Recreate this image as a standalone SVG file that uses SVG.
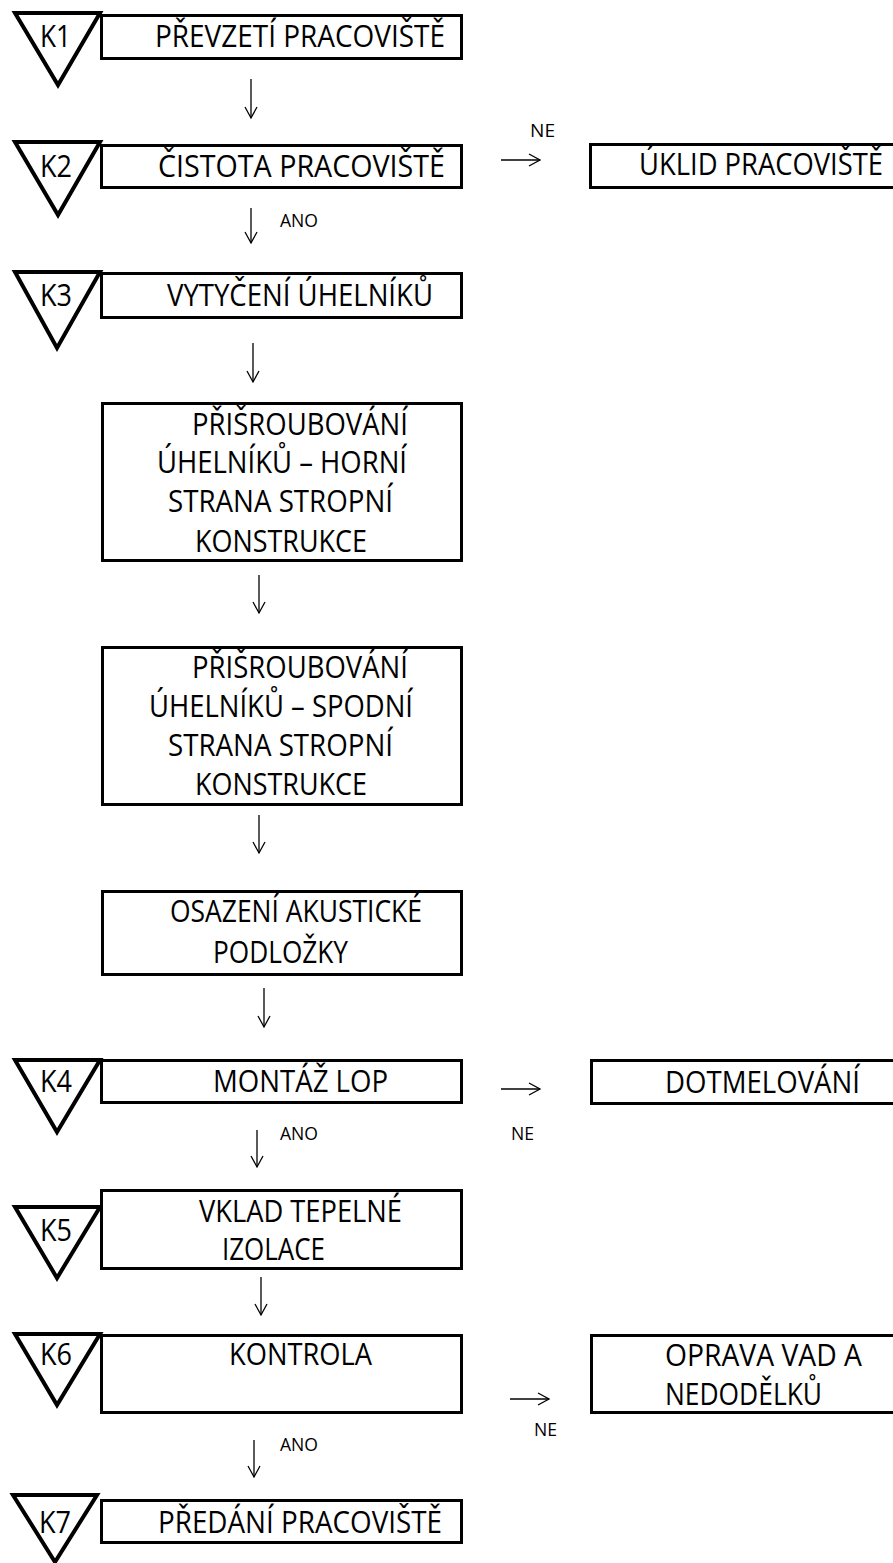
<svg xmlns="http://www.w3.org/2000/svg" width="893" height="1563" viewBox="0 0 893 1563">
<style>
.bg{fill:#fff}
.box{fill:#fff;stroke:#000;stroke-width:3}
.tri{fill:#fff;stroke:#000;stroke-width:4;stroke-linejoin:miter}
.t{font-family:"Open Sans","Noto Sans","DejaVu Sans",sans-serif;font-size:31px;fill:#000}
.s{font-family:"Open Sans","Noto Sans","DejaVu Sans",sans-serif;font-size:19px;fill:#000}
.ar{stroke:#000;stroke-width:1.3;fill:none;marker-end:url(#ah)}
</style>
<defs>
<marker id="ah" markerUnits="userSpaceOnUse" markerWidth="16" markerHeight="16" refX="12" refY="7" orient="auto">
<path d="M1,1 L12,7 L1,13" fill="none" stroke="#000" stroke-width="1.3"/>
</marker>
</defs>
<rect class="bg" x="0" y="0" width="893" height="1563"/>

<g id="connectors">
<line class="ar" x1="251" y1="79" x2="251" y2="118"/>
<line class="ar" x1="251" y1="208" x2="251" y2="243"/>
<line class="ar" x1="253" y1="343" x2="253" y2="382"/>
<line class="ar" x1="259" y1="575" x2="259" y2="613"/>
<line class="ar" x1="259" y1="815" x2="259" y2="853"/>
<line class="ar" x1="264" y1="988" x2="264" y2="1027"/>
<line class="ar" x1="257" y1="1130" x2="257" y2="1167"/>
<line class="ar" x1="261" y1="1277" x2="261" y2="1315"/>
<line class="ar" x1="254" y1="1440" x2="254" y2="1477"/>
<line class="ar" x1="501" y1="160" x2="540" y2="160"/>
<line class="ar" x1="501" y1="1089" x2="540" y2="1089"/>
<line class="ar" x1="510" y1="1399" x2="549" y2="1399"/>
<text class="s" x="280" y="227" textLength="38" lengthAdjust="spacingAndGlyphs">ANO</text>
<text class="s" x="280" y="1140" textLength="38" lengthAdjust="spacingAndGlyphs">ANO</text>
<text class="s" x="280" y="1451" textLength="38" lengthAdjust="spacingAndGlyphs">ANO</text>
<text class="s" x="530" y="137" textLength="25" lengthAdjust="spacingAndGlyphs">NE</text>
<text class="s" x="511" y="1140" textLength="23" lengthAdjust="spacingAndGlyphs">NE</text>
<text class="s" x="534" y="1436" textLength="23" lengthAdjust="spacingAndGlyphs">NE</text>
</g>

<g id="k1">
<polygon class="tri" points="15,13 100,13 58,85"/>
<text class="t" x="40" y="47" textLength="31" lengthAdjust="spacingAndGlyphs">K1</text>
</g>
<g id="n1">
<rect class="box" x="101.5" y="15.5" width="360" height="43"/>
<text class="t" x="155" y="47" textLength="290" lengthAdjust="spacingAndGlyphs">PŘEVZETÍ PRACOVIŠTĚ</text>
</g>

<g id="k2">
<polygon class="tri" points="15,142 100,142 58,215"/>
<text class="t" x="40" y="177" textLength="32" lengthAdjust="spacingAndGlyphs">K2</text>
</g>
<g id="n2">
<rect class="box" x="101.5" y="145.5" width="360" height="42"/>
<text class="t" x="158" y="177" textLength="287" lengthAdjust="spacingAndGlyphs">ČISTOTA PRACOVIŠTĚ</text>
</g>
<g id="n2ne">
<rect class="box" x="590.5" y="144.5" width="320" height="43"/>
<text class="t" x="639" y="175" textLength="244" lengthAdjust="spacingAndGlyphs">ÚKLID PRACOVIŠTĚ</text>
</g>

<g id="k3">
<polygon class="tri" points="15,272 100,272 57,348"/>
<text class="t" x="40" y="306" textLength="32" lengthAdjust="spacingAndGlyphs">K3</text>
</g>
<g id="n3">
<rect class="box" x="101.5" y="273.5" width="360" height="44"/>
<text class="t" x="167" y="306" textLength="266" lengthAdjust="spacingAndGlyphs">VYTYČENÍ ÚHELNÍKŮ</text>
</g>

<g id="n4">
<rect class="box" x="102.5" y="403.5" width="359" height="157"/>
<text class="t" x="192" y="435" textLength="216" lengthAdjust="spacingAndGlyphs">PŘIŠROUBOVÁNÍ</text>
<text class="t" x="157" y="473" textLength="250" lengthAdjust="spacingAndGlyphs">ÚHELNÍKŮ – HORNÍ</text>
<text class="t" x="168" y="512" textLength="225" lengthAdjust="spacingAndGlyphs">STRANA STROPNÍ</text>
<text class="t" x="195" y="552" textLength="172" lengthAdjust="spacingAndGlyphs">KONSTRUKCE</text>
</g>

<g id="n5">
<rect class="box" x="102.5" y="647.5" width="359" height="157"/>
<text class="t" x="192" y="678" textLength="216" lengthAdjust="spacingAndGlyphs">PŘIŠROUBOVÁNÍ</text>
<text class="t" x="149" y="717" textLength="264" lengthAdjust="spacingAndGlyphs">ÚHELNÍKŮ – SPODNÍ</text>
<text class="t" x="168" y="756" textLength="225" lengthAdjust="spacingAndGlyphs">STRANA STROPNÍ</text>
<text class="t" x="195" y="795" textLength="172" lengthAdjust="spacingAndGlyphs">KONSTRUKCE</text>
</g>

<g id="n6">
<rect class="box" x="102.5" y="891.5" width="359" height="83"/>
<text class="t" x="170" y="922" textLength="252" lengthAdjust="spacingAndGlyphs">OSAZENÍ AKUSTICKÉ</text>
<text class="t" x="213" y="963" textLength="135" lengthAdjust="spacingAndGlyphs">PODLOŽKY</text>
</g>

<g id="k4">
<polygon class="tri" points="15,1060 100,1060 57,1132"/>
<text class="t" x="40" y="1092" textLength="32" lengthAdjust="spacingAndGlyphs">K4</text>
</g>
<g id="n7">
<rect class="box" x="101.5" y="1060.5" width="360" height="42"/>
<text class="t" x="213" y="1092" textLength="175" lengthAdjust="spacingAndGlyphs">MONTÁŽ LOP</text>
</g>
<g id="n7ne">
<rect class="box" x="591.5" y="1060.5" width="320" height="43"/>
<text class="t" x="665" y="1093" textLength="195" lengthAdjust="spacingAndGlyphs">DOTMELOVÁNÍ</text>
</g>

<g id="k5">
<polygon class="tri" points="15,1207 100,1207 57,1278"/>
<text class="t" x="40" y="1241" textLength="32" lengthAdjust="spacingAndGlyphs">K5</text>
</g>
<g id="n8">
<rect class="box" x="101.5" y="1190.5" width="360" height="78"/>
<text class="t" x="199" y="1222" textLength="203" lengthAdjust="spacingAndGlyphs">VKLAD TEPELNÉ</text>
<text class="t" x="222" y="1260" textLength="103" lengthAdjust="spacingAndGlyphs">IZOLACE</text>
</g>

<g id="k6">
<polygon class="tri" points="15,1334 100,1334 57,1405"/>
<text class="t" x="40" y="1365" textLength="32" lengthAdjust="spacingAndGlyphs">K6</text>
</g>
<g id="n9">
<rect class="box" x="101.5" y="1335.5" width="360" height="77"/>
<text class="t" x="229" y="1365" textLength="143" lengthAdjust="spacingAndGlyphs">KONTROLA</text>
</g>
<g id="n9ne">
<rect class="box" x="591.5" y="1335.5" width="320" height="77"/>
<text class="t" x="665" y="1366" textLength="197" lengthAdjust="spacingAndGlyphs">OPRAVA VAD A</text>
<text class="t" x="665" y="1405" textLength="157" lengthAdjust="spacingAndGlyphs">NEDODĚLKŮ</text>
</g>

<g id="k7">
<polygon class="tri" points="13,1495 97,1495 55,1562"/>
<text class="t" x="39" y="1533" textLength="32" lengthAdjust="spacingAndGlyphs">K7</text>
</g>
<g id="n10">
<rect class="box" x="101.5" y="1500.5" width="360" height="42"/>
<text class="t" x="158" y="1533" textLength="284" lengthAdjust="spacingAndGlyphs">PŘEDÁNÍ PRACOVIŠTĚ</text>
</g>
</svg>
